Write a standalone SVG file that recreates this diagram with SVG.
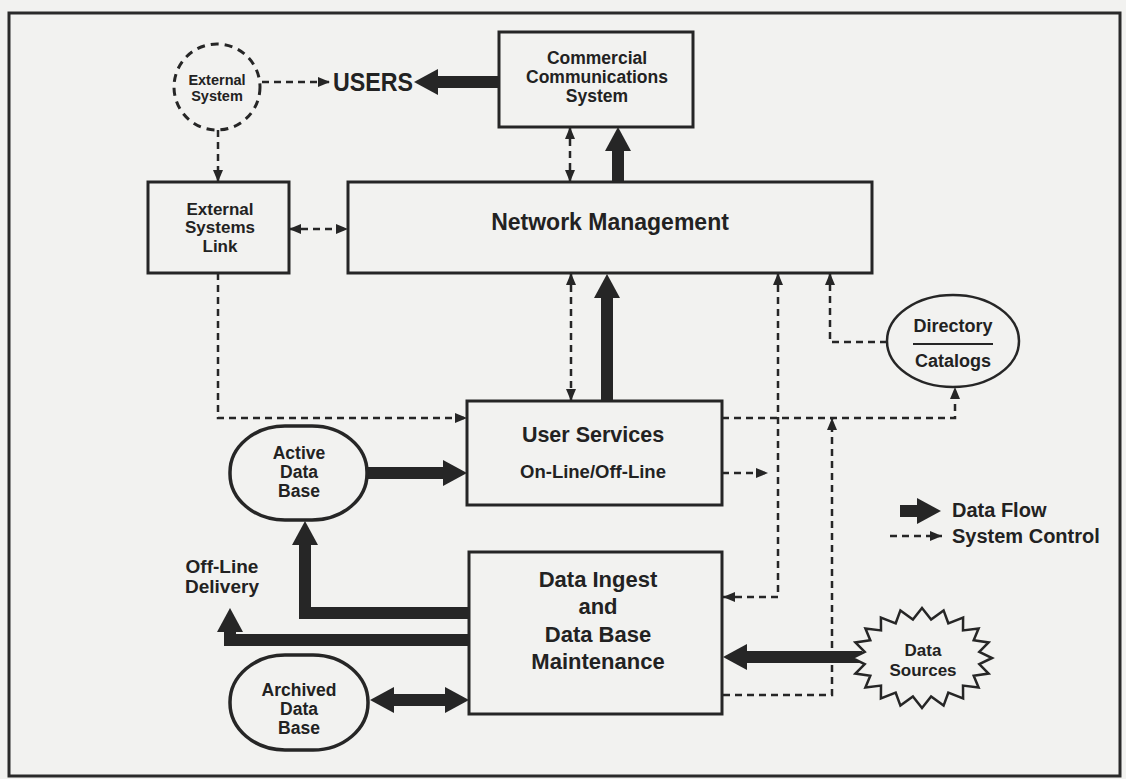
<svg xmlns="http://www.w3.org/2000/svg" width="1126" height="779" viewBox="0 0 1126 779">
<defs>
<style>
.bg{fill:#f2f2f0}
.frame{fill:none;stroke:#2a2a2a;stroke-width:3}
.box{fill:none;stroke:#262626;stroke-width:3}
.oval{fill:none;stroke:#262626;stroke-width:3.5}
.dashc{fill:none;stroke:#262626;stroke-width:3;stroke-dasharray:8 6}
.t{font-family:"Liberation Sans",Arial,sans-serif;font-weight:bold;fill:#222;text-anchor:middle}
.ctl{fill:none;stroke:#262626;stroke-width:2.5;stroke-dasharray:7 5}
.flow{fill:none;stroke:#262626;stroke-width:12}
</style>
<marker id="ah" markerUnits="userSpaceOnUse" markerWidth="12" markerHeight="10" viewBox="0 0 12 10" refX="12" refY="5" orient="auto-start-reverse">
<path d="M0,0 L12,5 L0,10 Z" fill="#262626"/>
</marker>
<marker id="big" markerUnits="userSpaceOnUse" markerWidth="24" markerHeight="26" viewBox="0 0 24 26" refX="1" refY="13" orient="auto-start-reverse">
<path d="M0,0 L24,13 L0,26 Z" fill="#262626"/>
</marker>
</defs>
<rect class="bg" x="0" y="0" width="1126" height="779"/>
<rect class="frame" x="9" y="13" width="1111" height="763"/>

<g id="connectors">
<!-- system control (dashed) -->
<path class="ctl" d="M262,82 L330,82" marker-end="url(#ah)"/>
<path class="ctl" d="M218,130 L218,182" marker-end="url(#ah)"/>
<path class="ctl" d="M289,229 L348,229" marker-start="url(#ah)" marker-end="url(#ah)"/>
<path class="ctl" d="M218,273 L218,418 L467,418" marker-end="url(#ah)"/>
<path class="ctl" d="M570,127 L570,182" marker-start="url(#ah)" marker-end="url(#ah)"/>
<path class="ctl" d="M571,273 L571,401" marker-start="url(#ah)" marker-end="url(#ah)"/>
<path class="ctl" d="M778,273 L778,597 L723,597" marker-start="url(#ah)" marker-end="url(#ah)"/>
<path class="ctl" d="M887,342 L830,342 L830,273" marker-end="url(#ah)"/>
<path class="ctl" d="M722,418 L955,418 L955,387" marker-end="url(#ah)"/>
<path class="ctl" d="M722,473 L768,473" marker-end="url(#ah)"/>
<path class="ctl" d="M723,695 L832,695 L832,418" marker-end="url(#ah)"/>
<!-- data flow (thick) -->
<path class="flow" d="M499,82 L437,82" marker-end="url(#big)"/>
<path class="flow" d="M618,182 L618,150" marker-end="url(#big)"/>
<path class="flow" d="M607,401 L607,297" marker-end="url(#big)"/>
<path class="flow" d="M367,473 L444,473" marker-end="url(#big)"/>
<path class="flow" d="M469,613 L305,613 L305,544" marker-end="url(#big)"/>
<path class="flow" d="M469,640 L230,640 L230,631" marker-end="url(#big)"/>
<path class="flow" d="M393,700 L446,700" marker-start="url(#big)" marker-end="url(#big)"/>
<path class="flow" d="M862,657 L746,657" marker-end="url(#big)"/>
</g>

<g id="external-system">
<circle class="dashc" cx="217" cy="87" r="43"/>
<text class="t" x="217" y="85" font-size="14.5">External</text>
<text class="t" x="217" y="101" font-size="14.5">System</text>
</g>

<g id="users">
<text class="t" x="373" y="91" font-size="26" textLength="80" lengthAdjust="spacingAndGlyphs">USERS</text>
</g>

<g id="commercial-communications-system">
<rect class="box" x="499" y="32" width="194" height="95"/>
<text class="t" x="597" y="64" font-size="17.5">Commercial</text>
<text class="t" x="597" y="83" font-size="17.5">Communications</text>
<text class="t" x="597" y="102" font-size="17.5">System</text>
</g>

<g id="external-systems-link">
<rect class="box" x="148" y="182" width="141" height="91"/>
<text class="t" x="220" y="215" font-size="17">External</text>
<text class="t" x="220" y="233" font-size="17">Systems</text>
<text class="t" x="220" y="252" font-size="17">Link</text>
</g>

<g id="network-management">
<rect class="box" x="348" y="182" width="524" height="91"/>
<text class="t" x="610" y="230" font-size="23">Network Management</text>
</g>

<g id="directory-catalogs">
<ellipse class="oval" cx="953" cy="341" rx="66" ry="46" style="stroke-width:2.5"/>
<text class="t" x="953" y="332" font-size="18">Directory</text>
<line x1="913" y1="344" x2="993" y2="344" stroke="#262626" stroke-width="2"/>
<text class="t" x="953" y="367" font-size="18">Catalogs</text>
</g>

<g id="active-data-base">
<rect class="oval" x="230" y="426" width="137" height="94" rx="55" ry="46"/>
<text class="t" x="299" y="459" font-size="17.5">Active</text>
<text class="t" x="299" y="478" font-size="17.5">Data</text>
<text class="t" x="299" y="497" font-size="17.5">Base</text>
</g>

<g id="user-services">
<rect class="box" x="467" y="401" width="255" height="104"/>
<text class="t" x="593" y="442" font-size="21.5">User Services</text>
<text class="t" x="593" y="478" font-size="18.5">On-Line/Off-Line</text>
</g>

<g id="legend">
<path class="flow" d="M900,511 L918,511" marker-end="url(#big)"/>
<text class="t" x="952" y="517" font-size="20" style="text-anchor:start">Data Flow</text>
<path class="ctl" d="M890,536 L942,536" marker-end="url(#ah)"/>
<text class="t" x="952" y="543" font-size="20" style="text-anchor:start">System Control</text>
</g>

<g id="data-ingest">
<rect class="box" x="469" y="552" width="253" height="162"/>
<text class="t" x="598" y="587" font-size="22">Data Ingest</text>
<text class="t" x="598" y="614" font-size="22">and</text>
<text class="t" x="598" y="642" font-size="22">Data Base</text>
<text class="t" x="598" y="669" font-size="22">Maintenance</text>
</g>

<g id="off-line-delivery">
<text class="t" x="222" y="573" font-size="19">Off-Line</text>
<text class="t" x="222" y="593" font-size="19">Delivery</text>
</g>

<g id="archived-data-base">
<rect class="oval" x="230" y="655" width="138" height="95" rx="55" ry="47"/>
<text class="t" x="299" y="696" font-size="17.5">Archived</text>
<text class="t" x="299" y="715" font-size="17.5">Data</text>
<text class="t" x="299" y="734" font-size="17.5">Base</text>
</g>

<g id="data-sources">
<polygon fill="#f2f2f0" stroke="#262626" stroke-width="2.5" stroke-linejoin="miter" points="992,658 979.3,664.1 988.6,673.5 973.7,675.7 978.6,687.4 963,685.6 963.1,698.5 948.3,692.7 943.6,705.6 931.1,696.5 922,708 912.9,696.5 900.4,705.6 895.7,692.7 880.9,698.5 881,685.6 865.4,687.4 870.3,675.7 855.4,673.5 864.7,664.1 852,658 864.7,651.9 855.4,642.5 870.3,640.3 865.4,628.6 881,630.4 880.9,617.5 895.7,623.3 900.4,610.4 912.9,619.5 922,608 931.1,619.5 943.6,610.4 948.3,623.3 963.1,617.5 963,630.4 978.6,628.6 973.7,640.3 988.6,642.5 979.3,651.9"/>
<text class="t" x="923" y="656" font-size="17">Data</text>
<text class="t" x="923" y="676" font-size="17">Sources</text>
</g>
</svg>
